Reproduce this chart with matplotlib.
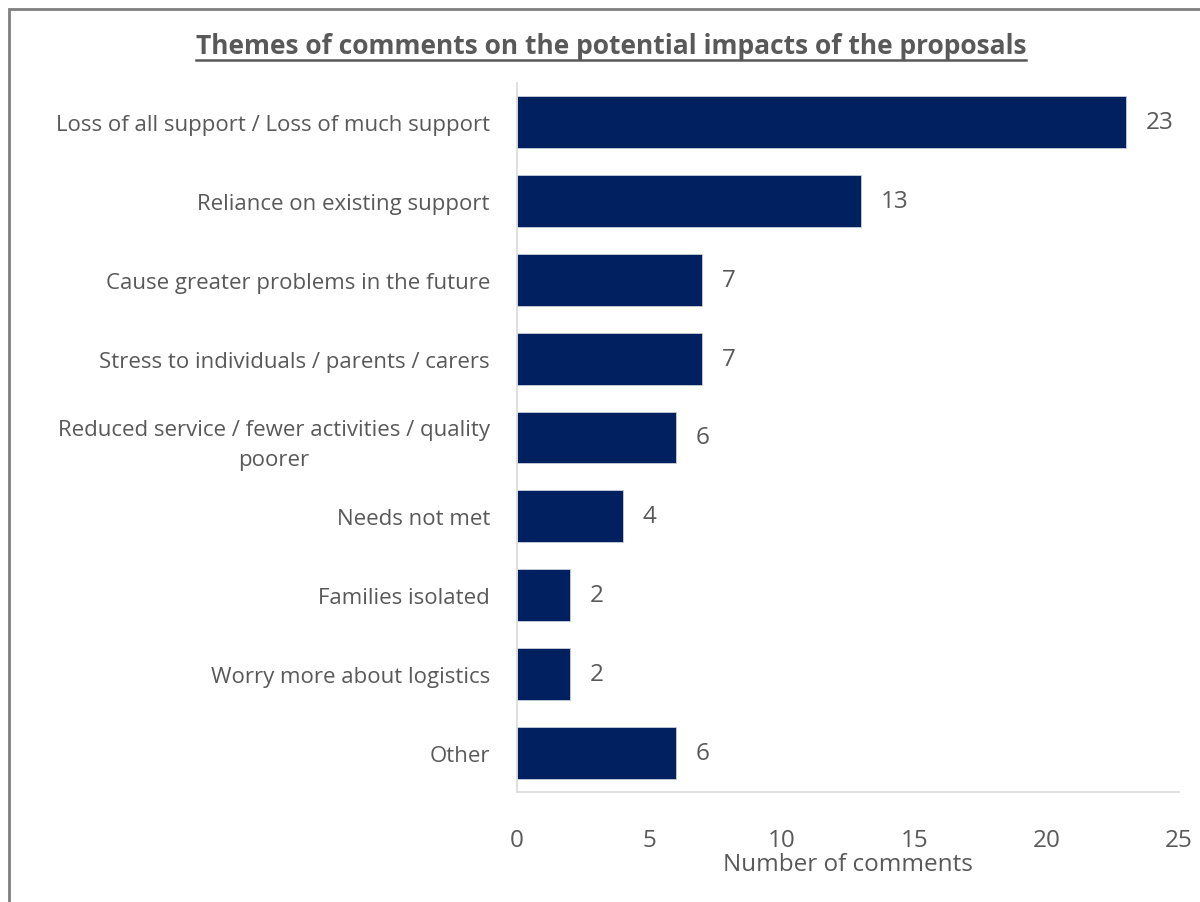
import matplotlib
matplotlib.use("Agg")
import matplotlib.pyplot as plt
from matplotlib.patches import Rectangle
from matplotlib.lines import Line2D

themes = [
    "Loss of all support / Loss of much support",
    "Reliance on existing support",
    "Cause greater problems in the future",
    "Stress to individuals / parents / carers",
    "Reduced service / fewer activities / quality\npoorer",
    "Needs not met",
    "Families isolated",
    "Worry more about logistics",
    "Other",
]
counts = [23, 13, 7, 7, 6, 4, 2, 2, 6]

bar_color = "#002060"
text_color = "#595959"
plt.rcParams['font.family'] = ['Open Sans', 'DejaVu Sans']

fig = plt.figure(figsize=(12, 9.03), dpi=100)
ax = fig.add_axes([517 / 1200, 1 - 793 / 903, 662 / 1200, (793 - 84) / 903])

y = list(range(len(themes)))
ax.barh(y, counts, height=0.66, color=bar_color, edgecolor="#c9ced8", linewidth=0.6)
for yi, c in zip(y, counts):
    ax.text(c + 0.75, yi, str(c), va="center", ha="left", fontsize=17.5, color=text_color)

ax.set_xlim(0, 25)
ax.set_ylim(len(themes) - 0.5, -0.5)
ax.set_xticks([0, 5, 10, 15, 20, 25])
ax.set_yticks(y)
ax.set_yticklabels(themes, fontsize=16, color=text_color, multialignment="center",
                   linespacing=1.55)
ax.tick_params(axis="y", length=0, pad=19.5)
ax.tick_params(axis="x", length=0, labelsize=17.5, labelcolor=text_color, pad=26)
for s in ["top", "right"]:
    ax.spines[s].set_visible(False)
for s in ["left", "bottom"]:
    ax.spines[s].set_color("#d9d9d9")
    ax.spines[s].set_linewidth(1.2)
ax.set_xlabel("Number of comments", fontsize=17.5, color=text_color, labelpad=0)

# title with underline
title = fig.text(0.509, 1 - 47 / 903, "Themes of comments on the potential impacts of the proposals",
                 ha="center", va="center", fontsize=19, fontweight="bold", color=text_color)
fig.canvas.draw()
bb = title.get_window_extent().transformed(fig.transFigure.inverted())
fig.add_artist(Line2D([bb.x0, bb.x1], [bb.y0 - 0.001, bb.y0 - 0.001],
                      transform=fig.transFigure, color=text_color, linewidth=1.8))

# outer frame
fig.add_artist(Rectangle((9 / 1200, -0.05), 1.2, 1 - 10 / 903 + 0.05, transform=fig.transFigure,
                         fill=False, edgecolor="#7f7f7f", linewidth=2))

fig.savefig("out.png", dpi=100)
